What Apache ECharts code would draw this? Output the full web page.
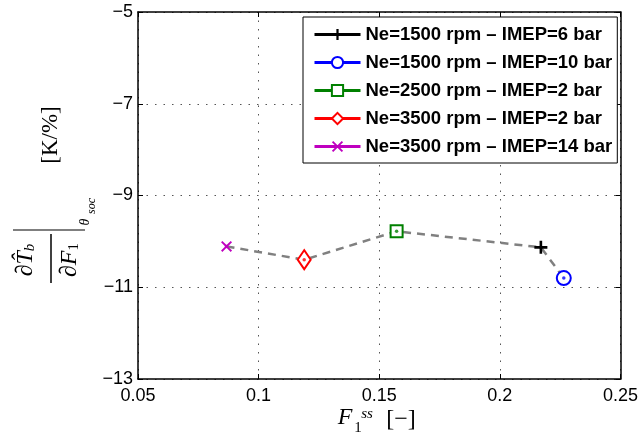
<!DOCTYPE html>
<html>
<head>
<meta charset="utf-8">
<script src="https://cdn.jsdelivr.net/npm/echarts@6/dist/echarts.min.js"></script>
<style>html,body{margin:0;padding:0;background:#fff}#c{width:641px;height:443px}</style>
</head>
<body>
<div id="c"></div>
<script>
const seriesNames = ['Ne=1500 rpm – IMEP=6 bar', 'Ne=1500 rpm – IMEP=10 bar', 'Ne=2500 rpm – IMEP=2 bar', 'Ne=3500 rpm – IMEP=2 bar', 'Ne=3500 rpm – IMEP=14 bar'];
const f1Values = [0.217, 0.2265, 0.1572, 0.1189, 0.0867];
const sensValues = [-10.13, -10.80, -9.78, -10.40, -10.11];
const seriesColors = ['#000000', '#0000ff', '#008000', '#ff0000', '#bf00bf'];
const xTickValues = [0.05, 0.1, 0.15, 0.2, 0.25];
const yTickValues = [-13, -11, -9, -7, -5];

const plusPath = 'path://M4,0 H6 V4 H10 V6 H6 V10 H4 V6 H0 V4 H4 Z';
const crossPath = 'path://M1.2,0 L5,3.8 L8.8,0 L10,1.2 L6.2,5 L10,8.8 L8.8,10 L5,6.2 L1.2,10 L0,8.8 L3.8,5 L0,1.2 Z';
const symbols = [plusPath, 'emptyCircle', 'emptyRect', 'emptyDiamond', crossPath];
const symbolSizes = [13, 14, 12, [13, 19], 11];

const order = f1Values.map((v, i) => i).sort((a, b) => f1Values[a] - f1Values[b]);
const trendData = order.map(i => [f1Values[i], sensValues[i]]);

const fmtX = v => String(+(+v).toFixed(2));
const fmtY = v => (v < 0 ? '\u2212' : '') + Math.abs(v);

const series = [{
  type: 'line', name: 'trend', data: trendData, symbol: 'none', z: 1,
  lineStyle: { color: '#808080', width: 2.5, type: [8, 6] }, silent: true
}];
seriesNames.forEach((n, i) => {
  series.push({
    type: 'line', name: n, data: [[f1Values[i], sensValues[i]]], z: 3,
    symbol: symbols[i], symbolSize: symbolSizes[i], showSymbol: true,
    lineStyle: { color: seriesColors[i], width: 2.5 },
    itemStyle: { color: seriesColors[i], borderColor: seriesColors[i], borderWidth: symbols[i].startsWith('empty') ? 2.5 : 0 }
  });
});
series.push({
  type: 'scatter', name: 'centers', z: 4, silent: true, symbol: 'circle', symbolSize: 3.5,
  data: f1Values.map((x, i) => ({ value: [x, sensValues[i]], itemStyle: { color: seriesColors[i] } }))
});

const axisCommon = {
  axisLine: { show: true, lineStyle: { color: '#000', width: 1.5 } },
  axisTick: { show: true, inside: true, length: 5, lineStyle: { color: '#000', width: 1 } }
};
const gridLine = { show: true, lineStyle: { color: '#555', width: 1, type: [1.5, 7] } };

const serif = 'Liberation Serif';
const graphic = [
  { type: 'text', x: 26, y: 260, rotation: Math.PI / 2,
    style: { text: '{i|\u2202T\u0302}{s|b}', align: 'center', verticalAlign: 'middle',
      rich: { i: { fontFamily: serif, fontStyle: 'italic', fontSize: 24, fill: '#000' },
              s: { fontFamily: serif, fontStyle: 'italic', fontSize: 15, fill: '#000', padding: [8, 0, 0, 0] } } } },
  { type: 'text', x: 70, y: 260, rotation: Math.PI / 2,
    style: { text: '{i|\u2202F}{s|1}', align: 'center', verticalAlign: 'middle',
      rich: { i: { fontFamily: serif, fontStyle: 'italic', fontSize: 24, fill: '#000' },
              s: { fontFamily: serif, fontSize: 15, fill: '#000', padding: [8, 0, 0, 0] } } } },
  { type: 'line', shape: { x1: 51, y1: 234, x2: 51, y2: 283 }, style: { stroke: '#000', lineWidth: 1.5 } },
  { type: 'line', shape: { x1: 13, y1: 230, x2: 85, y2: 230 }, style: { stroke: '#000', lineWidth: 1.2 } },
  { type: 'text', x: 85, y: 222, rotation: Math.PI / 2,
    style: { text: '\u03b8', align: 'center', verticalAlign: 'middle', fontFamily: serif, fontStyle: 'italic', fontSize: 14, fill: '#000' } },
  { type: 'text', x: 92, y: 206, rotation: Math.PI / 2,
    style: { text: 'soc', align: 'center', verticalAlign: 'middle', fontFamily: serif, fontStyle: 'italic', fontSize: 12, fill: '#000' } },
  { type: 'text', x: 51, y: 135, rotation: Math.PI / 2,
    style: { text: '[K/%]', align: 'center', verticalAlign: 'middle', fontFamily: serif, fontSize: 23, fill: '#000' } },
  { type: 'text', x: 345, y: 418,
    style: { text: 'F', align: 'center', verticalAlign: 'middle', fontFamily: serif, fontStyle: 'italic', fontSize: 24, fill: '#000' } },
  { type: 'text', x: 358, y: 428,
    style: { text: '1', align: 'center', verticalAlign: 'middle', fontFamily: serif, fontSize: 15, fill: '#000' } },
  { type: 'text', x: 367, y: 414,
    style: { text: 'ss', align: 'center', verticalAlign: 'middle', fontFamily: serif, fontStyle: 'italic', fontSize: 15, fill: '#000' } },
  { type: 'text', x: 401, y: 420,
    style: { text: '[\u2212]', align: 'center', verticalAlign: 'middle', fontFamily: serif, fontSize: 24, fill: '#000' } }
];

const option = {
  animation: false,
  backgroundColor: '#fff',
  grid: { left: 138, right: 20, top: 12, bottom: 64, containLabel: false },
  xAxis: [
    Object.assign({}, axisCommon, { type: 'value', position: 'bottom', min: 0.05, max: 0.25, interval: 0.05,
      axisLabel: { customValues: xTickValues, formatter: fmtX, fontFamily: 'Liberation Sans', fontSize: 18, color: '#000', margin: 8 },
      axisTick: Object.assign({}, axisCommon.axisTick, { customValues: xTickValues }),
      splitLine: gridLine }),
    Object.assign({}, axisCommon, { type: 'value', position: 'top', min: 0.05, max: 0.25, interval: 0.05,
      axisLabel: { show: false }, axisTick: Object.assign({}, axisCommon.axisTick, { customValues: xTickValues }), splitLine: { show: false } })
  ],
  yAxis: [
    Object.assign({}, axisCommon, { type: 'value', position: 'left', min: -13, max: -5, interval: 1,
      axisLabel: { customValues: yTickValues, formatter: fmtY, fontFamily: 'Liberation Sans', fontSize: 18, color: '#000', margin: 5 },
      axisTick: Object.assign({}, axisCommon.axisTick, { customValues: yTickValues }),
      splitLine: gridLine }),
    Object.assign({}, axisCommon, { type: 'value', position: 'right', min: -13, max: -5, interval: 1,
      axisLabel: { show: false }, axisTick: Object.assign({}, axisCommon.axisTick, { customValues: yTickValues }), splitLine: { show: false } })
  ],
  legend: {
    data: seriesNames, orient: 'vertical', left: 303, top: 17,
    backgroundColor: '#fff', borderColor: '#000', borderWidth: 1, borderRadius: 0,
    padding: [8, 5, 7, 10], itemWidth: 46, itemHeight: 14, itemGap: 9,
    lineStyle: { width: 3 },
    textStyle: { fontFamily: 'Liberation Sans', fontWeight: 'bold', fontSize: 18.5, color: '#000' }
  },
  graphic: graphic,
  series: series
};
const chart = echarts.init(document.getElementById('c'), null, { renderer: 'canvas' });
chart.setOption(option);
</script>
</body>
</html>
